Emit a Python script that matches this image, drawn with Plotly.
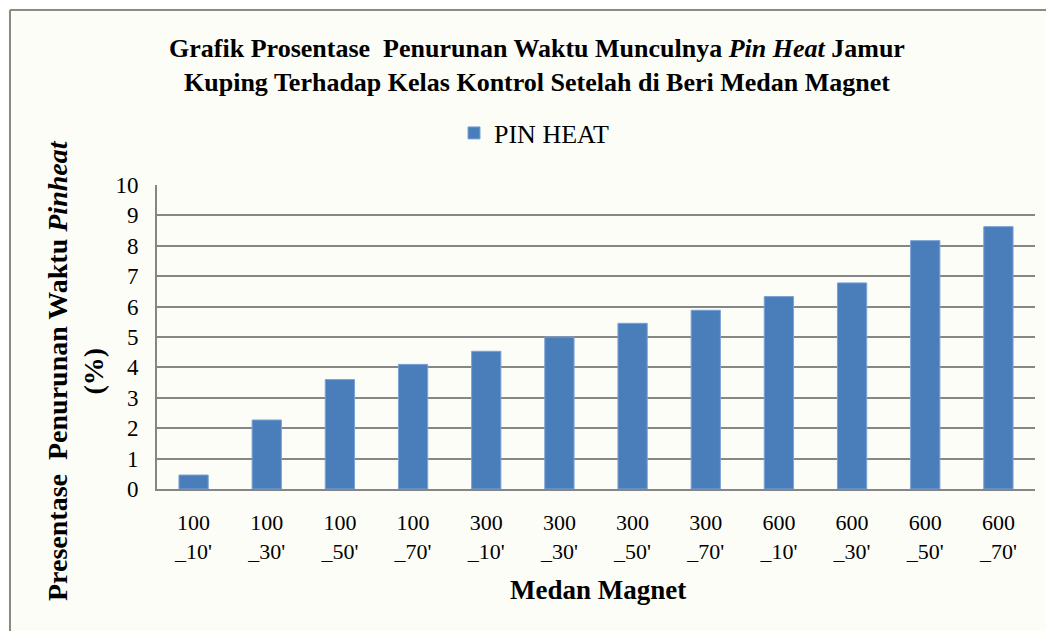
import plotly.graph_objects as go

categories = ["100<br>_10'", "100<br>_30'", "100<br>_50'", "100<br>_70'",
              "300<br>_10'", "300<br>_30'", "300<br>_50'", "300<br>_70'",
              "600<br>_10'", "600<br>_30'", "600<br>_50'", "600<br>_70'"]
pin_heat = [0.46, 2.27, 3.6, 4.1, 4.53, 5.0, 5.45, 5.88, 6.33, 6.78, 8.17, 8.63]
y_ticks = list(range(0, 11))

OFF = 8  # page body margin
W, H = 1054, 631
L, R, T, B = 157, 1035, 185, 489
PW, PH = R - L, B - T
FW, FH = W - OFF, H - OFF


def px(x):
    return (x - L) / PW


def py(y):
    return (B - y) / PH


FONT = "Liberation Serif, Times New Roman, serif"

fig = go.Figure()
fig.add_trace(go.Bar(
    x=categories, y=pin_heat, name="PIN HEAT",
    marker=dict(color="#4a7ebb", line=dict(color="#7aa2d4", width=1)),
))

fig.update_layout(
    width=FW, height=FH,
    margin=dict(l=L - OFF, r=W - R, t=T - OFF, b=H - B, autoexpand=False),
    paper_bgcolor="#fdfdf8", plot_bgcolor="#fdfdf8",
    font=dict(family=FONT, size=22, color="#000000"),
    bargap=0.6,
    showlegend=True,
    legend=dict(orientation="h", x=px(534), y=py(133), xanchor="center", yanchor="middle",
                font=dict(size=26), bgcolor="rgba(0,0,0,0)", itemwidth=30),
    title=dict(
        text="<b>Grafik Prosentase\u00a0\u00a0Penurunan Waktu Munculnya <i>Pin Heat</i> Jamur<br>Kuping Terhadap Kelas Kontrol Setelah di Beri Medan Magnet</b>",
        xref="container", x=(537 - OFF) / FW, xanchor="center",
        yref="container", y=1 - (57 - OFF) / FH, yanchor="top",
        font=dict(family=FONT, size=26, color="#000000"),
    ),
    xaxis=dict(
        showgrid=False, showline=True, linecolor="#868686", linewidth=2,
        ticks="outside", ticklen=13, tickcolor="rgba(0,0,0,0)",
        tickfont=dict(size=22), tickangle=0,
    ),
    yaxis=dict(
        range=[0, 10], tickvals=y_ticks, showgrid=True, gridcolor="#868686", gridwidth=2,
        showline=True, linecolor="#868686", linewidth=2, zeroline=False,
        ticks="outside", ticklen=12, tickcolor="rgba(0,0,0,0)",
        tickfont=dict(size=23),
    ),
    annotations=[
        dict(text="<b>Presentase\u00a0\u00a0Penurunan Waktu <i>Pinheat</i><br>(%)</b>",
             xref="paper", yref="paper", x=px(75), y=py(371), textangle=-90,
             showarrow=False, xanchor="center", yanchor="middle",
             font=dict(family=FONT, size=28, color="#000000")),
        dict(text="<b>Medan Magnet</b>", xref="paper", yref="paper",
             x=px(598), y=py(590), showarrow=False, xanchor="center", yanchor="middle",
             font=dict(family=FONT, size=27, color="#000000")),
    ],
    shapes=[
        dict(type="line", xref="paper", yref="paper",
             x0=px(10), x1=px(10), y0=py(660), y1=py(10),
             line=dict(color="#8a8a86", width=2), layer="above"),
        dict(type="line", xref="paper", yref="paper",
             x0=px(10), x1=px(1080), y0=py(10), y1=py(10),
             line=dict(color="#8a8a86", width=2), layer="above"),
    ],
)

fig.write_html("out.html")
